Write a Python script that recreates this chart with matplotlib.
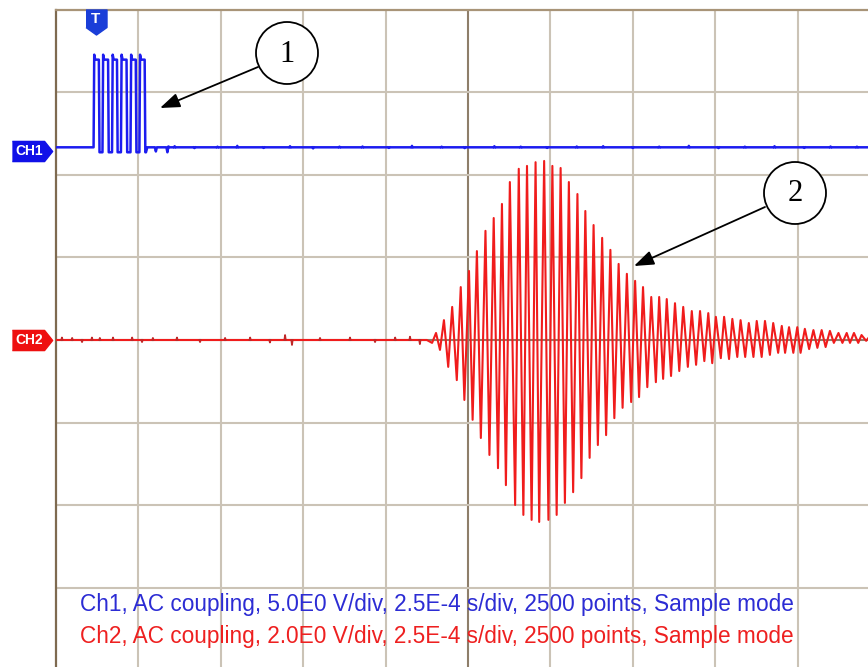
"""Scope capture: transmit burst (CH1) and received echo (CH2)"""
import matplotlib.pyplot as plt
from matplotlib.patches import Circle, FancyArrowPatch
from matplotlib.transforms import offset_copy

# scope settings
ms_per_div = 0.25          # 2.5E-4 s/div
ch1_v_per_div = 5.0
ch2_v_per_div = 2.0
ch1_offset = 2.33          # divisions above centre
ch2_offset = 0.0
trigger_t = 0.12           # ms

# CH1 trace, transmit burst (ms, V)
ch1_t = [0.000, 0.114, 0.116, 0.119, 0.130, 0.132, 0.141,
         0.143, 0.146, 0.158, 0.160, 0.170,
         0.172, 0.175, 0.185, 0.187, 0.197,
         0.199, 0.202, 0.214, 0.216, 0.226,
         0.228, 0.231, 0.242, 0.244, 0.253,
         0.255, 0.258, 0.269, 0.271, 0.273, 0.277,
         0.300, 0.303, 0.306, 0.335, 0.338, 0.341, 0.345, 2.470]
ch1_v = [0.0, 0.0, 5.6, 5.3, 5.3, -0.3, -0.3,
         5.6, 5.3, 5.3, -0.3, -0.3,
         5.6, 5.3, 5.3, -0.3, -0.3,
         5.6, 5.3, 5.3, -0.3, -0.3,
         5.6, 5.3, 5.3, -0.3, -0.3,
         5.6, 5.3, 5.3, -0.3, -0.3, 0.0,
         0.0, -0.25, 0.0, 0.0, -0.3, 0.05, 0.0, 0.0]

# CH1 small noise blips on the baseline (ms, V)
ch1_blip_t = [0.36, 0.42, 0.49, 0.55, 0.63, 0.71, 0.78, 0.86, 0.93, 1.01, 1.08, 1.17, 1.24, 1.33,
              1.41, 1.49, 1.58, 1.66, 1.75, 1.83, 1.92, 2.01, 2.09, 2.18, 2.27, 2.35, 2.43]
ch1_blip_v = [0.08, -0.06, 0.05, 0.10, -0.05, 0.08, -0.08, 0.05, 0.06, -0.05, 0.10, 0.05, -0.06, 0.08,
              0.05, -0.05, 0.06, 0.08, -0.05, 0.05, 0.10, -0.06, 0.05, 0.08, -0.05, 0.06, 0.05]

# CH2 echo, successive peaks and troughs (ms, V)
ch2_t = [0.000, 1.125, 1.141, 1.153, 1.165, 1.177, 1.190, 1.202, 1.216, 1.228,
         1.239, 1.253, 1.264, 1.277, 1.289, 1.303, 1.315, 1.328, 1.341, 1.353,
         1.365, 1.377, 1.393, 1.404, 1.418, 1.429, 1.443, 1.455, 1.466, 1.481,
         1.494, 1.506, 1.519, 1.531, 1.544, 1.556, 1.569, 1.582, 1.594, 1.606,
         1.619, 1.631, 1.644, 1.657, 1.669, 1.682, 1.694, 1.707, 1.719, 1.732,
         1.745, 1.757, 1.769, 1.781, 1.794, 1.806, 1.820, 1.830, 1.842, 1.853,
         1.866, 1.878, 1.891, 1.903, 1.917, 1.929, 1.942, 1.954, 1.967, 1.979,
         1.991, 2.002, 2.017, 2.027, 2.042, 2.052, 2.067, 2.077, 2.091, 2.102,
         2.116, 2.126, 2.141, 2.151, 2.166, 2.176, 2.191, 2.202, 2.212, 2.224,
         2.237, 2.249, 2.259, 2.272, 2.285, 2.298, 2.310, 2.323, 2.335, 2.348,
         2.360, 2.374, 2.386, 2.399, 2.409, 2.421, 2.434, 2.444, 2.458, 2.470]
ch2_v = [0.00, 0.00, -0.07, 0.17, -0.24, 0.48, -0.65, 0.80, -0.97, 1.28,
         -1.45, 1.67, -1.93, 2.15, -2.37, 2.64, -2.78, 2.95, -3.10, 3.29,
         -3.51, 3.82, -3.99, 4.14, -4.23, 4.21, -4.35, 4.30, -4.40, 4.33,
         -4.35, 4.21, -4.23, 4.16, -3.94, 3.82, -3.68, 3.53, -3.34, 3.12,
         -2.85, 2.78, -2.54, 2.47, -2.30, 2.18, -1.89, 1.84, -1.64, 1.60,
         -1.50, 1.43, -1.38, 1.28, -1.14, 1.04, -1.02, 1.04, -0.94, 0.99,
         -0.87, 0.89, -0.75, 0.80, -0.65, 0.70, -0.60, 0.70, -0.51, 0.65,
         -0.56, 0.56, -0.44, 0.56, -0.46, 0.51, -0.41, 0.48, -0.41, 0.41,
         -0.41, 0.46, -0.41, 0.46, -0.36, 0.41, -0.31, 0.34, -0.31, 0.31,
         -0.31, 0.31, -0.31, 0.27, -0.22, 0.24, -0.19, 0.24, -0.17, 0.22,
         -0.07, 0.17, -0.07, 0.17, -0.07, 0.17, -0.07, 0.12, -0.02, 0.10]

# CH2 noise blips before the echo (ms, V)
ch2_blip_t = [0.018, 0.049, 0.079, 0.109, 0.133, 0.173, 0.231, 0.261, 0.294, 0.367, 0.437,
              0.513, 0.589, 0.649, 0.695, 0.716, 0.801, 0.892, 0.968, 1.029, 1.074, 1.104]
ch2_blip_v = [0.06, 0.05, -0.05, 0.06, 0.05, 0.06, 0.06, -0.05, 0.05, 0.06, -0.05,
              0.05, 0.06, -0.06, 0.12, -0.12, 0.05, 0.06, -0.05, 0.06, 0.08, -0.10]

ch1_text = "Ch1, AC coupling, 5.0E0 V/div, 2.5E-4 s/div, 2500 points, Sample mode"
ch2_text = "Ch2, AC coupling, 2.0E0 V/div, 2.5E-4 s/div, 2500 points, Sample mode"

BLUE = "#1c1cf0"
RED = "#f01c1c"
GRID = "#cbc3b6"
GRID_DARK = "#8e7e6a"

W, H, DPI = 868, 667, 100
fig = plt.figure(figsize=(W / DPI, H / DPI), dpi=DPI)
ax = fig.add_axes([56 / W, 0, 1 - 56 / W, (H - 10) / H])
ax.set_xlim(0, 812 / 82.4 * ms_per_div)
ax.set_ylim(-327 / 82.7, 330 / 82.7)
ax.set_xticks([])
ax.set_yticks([])
for s in ["right", "bottom"]:
    ax.spines[s].set_visible(False)
ax.spines["left"].set_color("#7e6a50")
ax.spines["left"].set_linewidth(1.6)
ax.spines["top"].set_color("#a89478")
ax.spines["top"].set_linewidth(1.6)

for i in range(1, 10):
    ax.axvline(i * ms_per_div, color=GRID_DARK if i == 5 else GRID, lw=1.5, zorder=0)
for j in range(-3, 4):
    ax.axhline(j, color=GRID_DARK if j == 0 else GRID, lw=1.5, zorder=0)

# traces
ax.plot(ch1_t, [v / ch1_v_per_div + ch1_offset for v in ch1_v], color=BLUE, lw=1.8, zorder=3)
for t, v in zip(ch1_blip_t, ch1_blip_v):
    ax.plot([t - 0.003, t, t + 0.003], [ch1_offset, v / ch1_v_per_div + ch1_offset, ch1_offset],
            color=BLUE, lw=1.5, zorder=3)
ax.plot(ch2_t, [v / ch2_v_per_div + ch2_offset for v in ch2_v], color=RED, lw=1.5, zorder=3)
for t, v in zip(ch2_blip_t, ch2_blip_v):
    ax.plot([t - 0.002, t, t + 0.002], [ch2_offset, v / ch2_v_per_div + ch2_offset, ch2_offset],
            color="#c02828", lw=1.3, zorder=3)

# channel markers on the left edge
tag = [(-1, -0.5), (0.6, -0.5), (1, 0), (0.6, 0.5), (-1, 0.5)]
for name, off, col, dy in [("CH1", ch1_offset, "#1010e8", -4), ("CH2", ch2_offset, "#ee1010", 0)]:
    tr = offset_copy(ax.transData, fig=fig, x=-24, y=dy, units="dots")
    ax.plot(0, off, marker=tag, ms=29, color=col, transform=tr, clip_on=False, zorder=5)
    tr2 = offset_copy(ax.transData, fig=fig, x=-27, y=dy, units="dots")
    ax.text(0, off, name, transform=tr2, ha="center", va="center", color="white",
            fontweight="bold", fontsize=10, family="Liberation Sans", zorder=6)

# trigger marker
trig = [(-0.84, 1), (0.84, 1), (0.84, -0.4), (0, -1), (-0.84, -0.4)]
tr = offset_copy(ax.transData, fig=fig, x=0, y=-12, units="dots")
ax.plot(trigger_t, ax.get_ylim()[1], marker=trig, ms=18, color="#1a3ed8", transform=tr,
        clip_on=False, zorder=5)
tr = offset_copy(ax.transData, fig=fig, x=0, y=-9, units="dots")
ax.text(trigger_t, ax.get_ylim()[1], "T", transform=tr, ha="center", va="center", color="white",
        fontweight="bold", fontsize=11, family="Liberation Sans", zorder=6)

# numbered callouts (pixel positions)
px = fig.dpi_scale_trans
def P(x, y):
    return (x / DPI, (H - y) / DPI)

for num, c, start, tip in [("1", (287, 53), (258, 67), (160, 108)),
                           ("2", (795, 193), (765, 207), (634, 266))]:
    fig.add_artist(Circle(P(*c), 0.31, transform=px, facecolor="white", edgecolor="black", lw=1.3, zorder=7))
    fig.text(*P(c[0], c[1] + 1), num, transform=px, ha="center", va="center", fontsize=22,
             family="Liberation Serif", zorder=8)
    fig.add_artist(FancyArrowPatch(
        P(*start), P(*tip), transform=px, arrowstyle="-|>,head_length=0.6,head_width=0.22",
        mutation_scale=20, color="black", lw=1.3, shrinkA=0, shrinkB=0, zorder=7))

fig.text(80 / W, 1 - 604 / H, ch1_text, color="#2c2cd4", fontsize=16.3, va="center",
         family="Liberation Sans")
fig.text(80 / W, 1 - 637 / H, ch2_text, color="#ee2020", fontsize=16.3, va="center",
         family="Liberation Sans")

fig.savefig("out.png", dpi=DPI)
